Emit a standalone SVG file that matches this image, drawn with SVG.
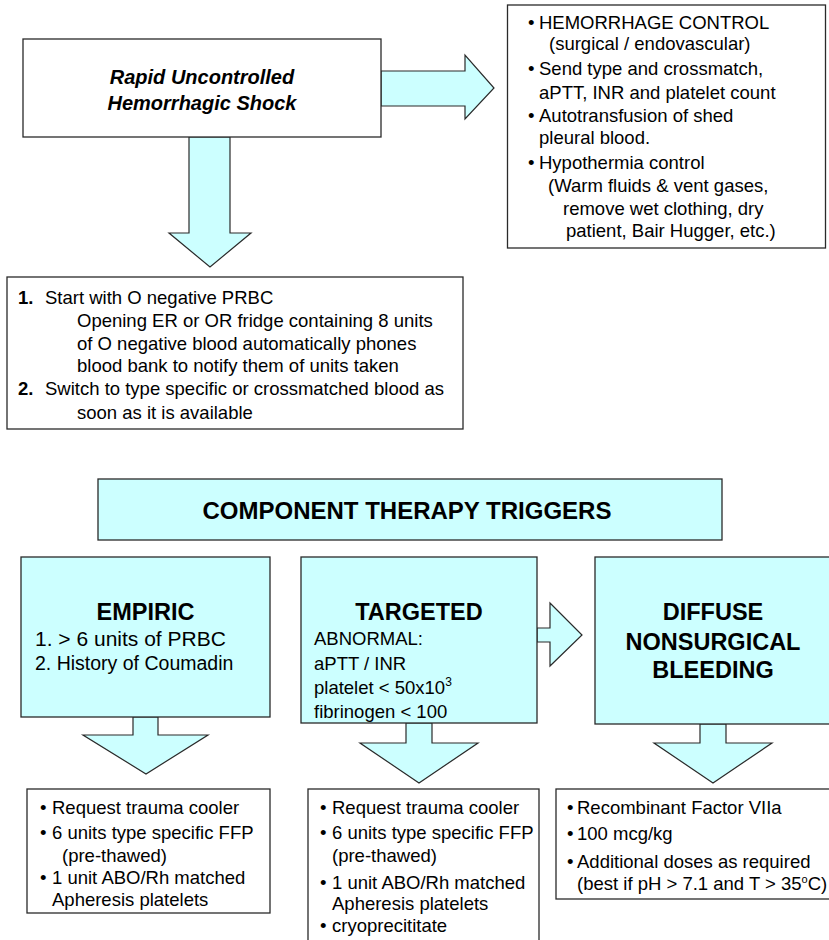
<svg xmlns="http://www.w3.org/2000/svg" width="829" height="940" viewBox="0 0 829 940">
<style>
.box{fill:#ffffff;stroke:#2a2a2a;stroke-width:1.3}
.cyan{fill:#ccffff;stroke:#2a2a2a;stroke-width:1.3}
.arrow{fill:#ccffff;stroke:#2a2a2a;stroke-width:1.2;stroke-linejoin:miter}
text{font-family:"Liberation Sans",Arial,sans-serif;fill:#000}
.t{font-size:18.5px}
.b{font-weight:bold}
.h{font-size:23.5px;font-weight:bold;text-anchor:middle}
.title{font-size:20px;font-weight:bold;font-style:italic;text-anchor:middle}
</style>
<rect width="829" height="940" fill="#ffffff"/>

<g id="connectors">
<polygon class="arrow" points="381,71 465,71 465,55 494,88 465,119 465,106 381,106"/>
<polygon class="arrow" points="189,137 230,137 230,233 251,233 210,267 169,233 189,233"/>
<polygon class="arrow" points="133,717 158,717 158,735 208,735 146,774 83,735 133,735"/>
<polygon class="arrow" points="406,723 432,723 432,743 478,743 419,783 360,743 406,743"/>
<polygon class="arrow" points="700,724 726,724 726,743 772,743 713,783 654,743 700,743"/>
<polygon class="arrow" points="537,628 550,628 550,603 582,635 550,666 550,642 537,642"/>
</g>

<g id="shock">
<rect class="box" x="23" y="39" width="358" height="98"/>
<text class="title" x="202" y="84">Rapid Uncontrolled</text>
<text class="title" x="202" y="110">Hemorrhagic Shock</text>
</g>

<g id="control">
<rect class="box" x="507.5" y="5" width="318" height="243"/>
<g class="t">
<text x="528" y="29">•</text><text x="539" y="29">HEMORRHAGE CONTROL</text>
<text x="549" y="50">(surgical / endovascular)</text>
<text x="528" y="75">•</text><text x="539" y="75">Send type and crossmatch,</text>
<text x="539" y="99">aPTT, INR and platelet count</text>
<text x="528" y="122">•</text><text x="539" y="122">Autotransfusion of shed</text>
<text x="539" y="144">pleural blood.</text>
<text x="528" y="169">•</text><text x="539" y="169">Hypothermia control</text>
<text x="548" y="192">(Warm fluids &amp; vent gases,</text>
<text x="563" y="215">remove wet clothing, dry</text>
<text x="566" y="237">patient, Bair Hugger, etc.)</text>
</g>
</g>

<g id="onegative">
<rect class="box" x="7" y="277" width="456" height="152"/>
<g class="t">
<text class="b" x="18" y="303.5">1.</text><text x="45" y="303.5">Start with O negative PRBC</text>
<text x="77" y="326.5">Opening ER or OR fridge containing 8 units</text>
<text x="77" y="349.5">of O negative blood automatically phones</text>
<text x="77" y="371.5">blood bank to notify them of units taken</text>
<text class="b" x="18" y="394.5">2.</text><text x="45" y="394.5">Switch to type specific or crossmatched blood as</text>
<text x="77" y="418.5">soon as it is available</text>
</g>
</g>

<g id="triggers">
<rect class="cyan" x="98" y="479" width="624" height="61"/>
<text x="407" y="518.5" style="font-size:24px;font-weight:bold;text-anchor:middle">COMPONENT THERAPY TRIGGERS</text>
</g>

<g id="empiric">
<rect class="cyan" x="21" y="557" width="249" height="160"/>
<text class="h" x="145.5" y="620">EMPIRIC</text>
<text x="35" y="645.5" style="font-size:21px">1. &gt; 6 units of PRBC</text>
<text x="35" y="670" style="font-size:19.5px">2. History of Coumadin</text>
</g>

<g id="targeted">
<rect class="cyan" x="301" y="557" width="236" height="166"/>
<text class="h" x="419" y="620">TARGETED</text>
<g class="t">
<text x="314" y="644.6">ABNORMAL:</text>
<text x="314" y="669.6">aPTT / INR</text>
<text x="314" y="693.6">platelet &lt; 50x10<tspan dy="-8" style="font-size:12px">3</tspan></text>
<text x="314" y="717.6">fibrinogen &lt; 100</text>
</g>
</g>

<g id="diffuse">
<rect class="cyan" x="595" y="557" width="240" height="167"/>
<text class="h" x="713" y="620">DIFFUSE</text>
<text class="h" x="713" y="650">NONSURGICAL</text>
<text class="h" x="713" y="678">BLEEDING</text>
</g>

<g id="empiric-actions">
<rect class="box" x="27" y="789" width="243" height="124"/>
<g class="t">
<text x="40" y="813.6">•</text><text x="52" y="813.6">Request trauma cooler</text>
<text x="40" y="838.6">•</text><text x="52" y="838.6">6 units type specific FFP</text>
<text x="62" y="861.6">(pre-thawed)</text>
<text x="40" y="883.6">•</text><text x="52" y="883.6">1 unit ABO/Rh matched</text>
<text x="52" y="905.6">Apheresis platelets</text>
</g>
</g>

<g id="targeted-actions">
<rect class="box" x="308" y="789" width="231" height="160"/>
<g class="t">
<text x="320" y="813.6">•</text><text x="332" y="813.6">Request trauma cooler</text>
<text x="320" y="838.6">•</text><text x="332" y="838.6">6 units type specific FFP</text>
<text x="332" y="861.6">(pre-thawed)</text>
<text x="320" y="888.6">•</text><text x="332" y="888.6">1 unit ABO/Rh matched</text>
<text x="332" y="909.6">Apheresis platelets</text>
<text x="320" y="931.6">•</text><text x="332" y="931.6">cryoprecititate</text>
</g>
</g>

<g id="diffuse-actions">
<rect class="box" x="556" y="789" width="280" height="110"/>
<g class="t">
<text x="567" y="813.6">•</text><text x="577" y="813.6">Recombinant Factor VIIa</text>
<text x="567" y="839.6">•</text><text x="577" y="839.6">100 mcg/kg</text>
<text x="567" y="867.6">•</text><text x="577" y="867.6">Additional doses as required</text>
<text x="577" y="889.6">(best if pH &gt; 7.1 and T &gt; 35<tspan dy="-7" style="font-size:11px">o</tspan><tspan dy="7">C)</tspan></text>
</g>
</g>
</svg>
